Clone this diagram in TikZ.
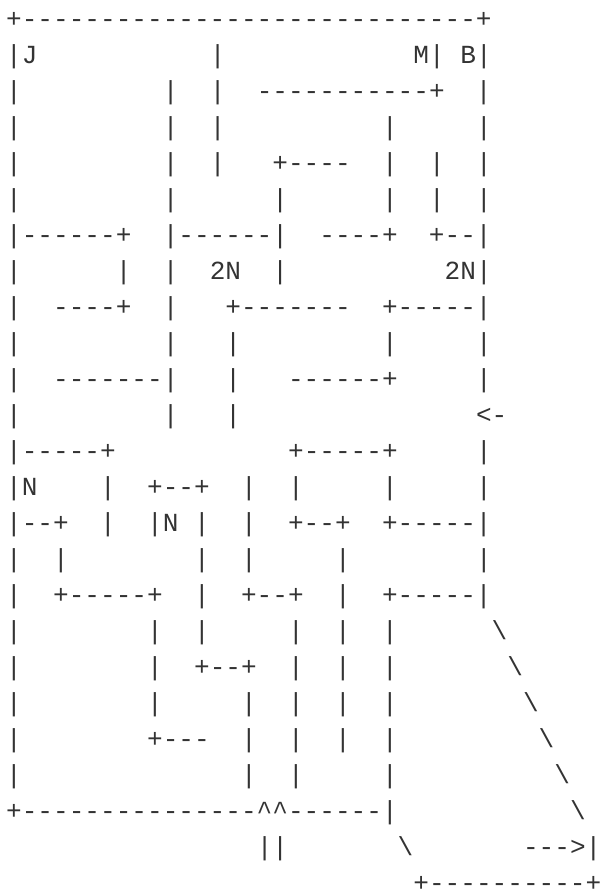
\documentclass[tikz,border=0pt]{standalone}
\usepackage{fontspec}
\newfontfamily\asc{Liberation Mono}
\newlength\cw
\setlength\cw{15.6625pt}
\newcommand\gp[1]{\hspace*{#1\cw}}
\newcommand\bs{\textbackslash}
\newcommand\ct{\textasciicircum}
\begin{document}
\begin{tikzpicture}[x=1pt,y=-1pt,
  row/.style={anchor=base west, inner sep=0pt, outer sep=0pt, text=black!80,
    text depth=0pt, font=\asc\fontsize{26.1}{30}\selectfont}]
\useasboundingbox (0,0) rectangle (602,892);
\def\gx{6.17}
\node[row] (l1)  at (\gx, 27) {+-----------------------------+};
\node[row] (l2)  at (\gx, 63) {|J\gp{11}|\gp{12}M|\gp{1}B|};
\node[row] (l3)  at (\gx, 99) {|\gp{9}|\gp{2}|\gp{2}-----------+\gp{2}|};
\node[row] (l4)  at (\gx,135) {|\gp{9}|\gp{2}|\gp{10}|\gp{5}|};
\node[row] (l5)  at (\gx,171) {|\gp{9}|\gp{2}|\gp{3}+----\gp{2}|\gp{2}|\gp{2}|};
\node[row] (l6)  at (\gx,207) {|\gp{9}|\gp{6}|\gp{6}|\gp{2}|\gp{2}|};
\node[row] (l7)  at (\gx,243) {|------+\gp{2}|------|\gp{2}----+\gp{2}+--|};
\node[row] (l8)  at (\gx,279) {|\gp{6}|\gp{2}|\gp{2}2N\gp{2}|\gp{10}2N|};
\node[row] (l9)  at (\gx,315) {|\gp{2}----+\gp{2}|\gp{3}+-------\gp{2}+-----|};
\node[row] (l10) at (\gx,351) {|\gp{9}|\gp{3}|\gp{9}|\gp{5}|};
\node[row] (l11) at (\gx,387) {|\gp{2}-------|\gp{3}|\gp{3}------+\gp{5}|};
\node[row] (l12) at (\gx,423) {|\gp{9}|\gp{3}|\gp{15}<-};
\node[row] (l13) at (\gx,459) {|-----+\gp{11}+-----+\gp{5}|};
\node[row] (l14) at (\gx,495) {|N\gp{4}|\gp{2}+--+\gp{2}|\gp{2}|\gp{5}|\gp{5}|};
\node[row] (l15) at (\gx,531) {|--+\gp{2}|\gp{2}|N\gp{1}|\gp{2}|\gp{2}+--+\gp{2}+-----|};
\node[row] (l16) at (\gx,567) {|\gp{2}|\gp{8}|\gp{2}|\gp{5}|\gp{8}|};
\node[row] (l17) at (\gx,603) {|\gp{2}+-----+\gp{2}|\gp{2}+--+\gp{2}|\gp{2}+-----|};
\node[row] (l18) at (\gx,639) {|\gp{8}|\gp{2}|\gp{5}|\gp{2}|\gp{2}|\gp{6}\bs};
\node[row] (l19) at (\gx,675) {|\gp{8}|\gp{2}+--+\gp{2}|\gp{2}|\gp{2}|\gp{7}\bs};
\node[row] (l20) at (\gx,711) {|\gp{8}|\gp{5}|\gp{2}|\gp{2}|\gp{2}|\gp{8}\bs};
\node[row] (l21) at (\gx,747) {|\gp{8}+---\gp{2}|\gp{2}|\gp{2}|\gp{2}|\gp{9}\bs};
\node[row] (l22) at (\gx,783) {|\gp{14}|\gp{2}|\gp{5}|\gp{10}\bs};
\node[row] (l23) at (\gx,819) {+---------------\ct\ct------|\gp{11}\bs};
\node[row] (l24) at (\gx+16*15.6625,855) {||\gp{7}\bs\gp{7}--->|};
\node[row] (l25) at (\gx+26*15.6625,891) {+----------+};
\end{tikzpicture}
\end{document}
